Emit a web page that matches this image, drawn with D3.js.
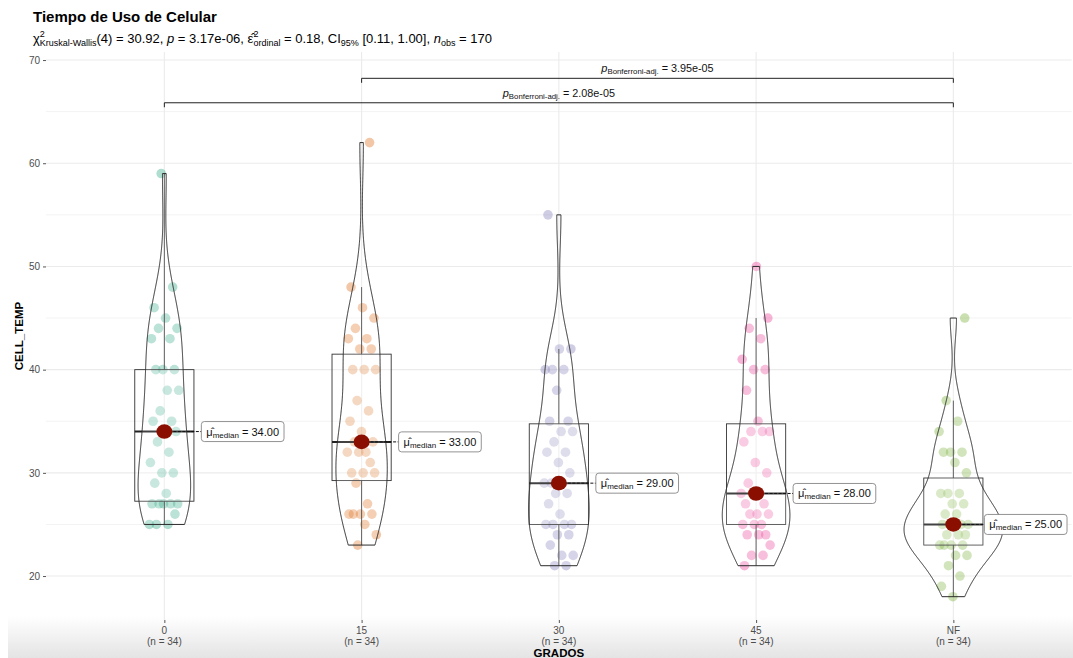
<!DOCTYPE html>
<html><head><meta charset="utf-8">
<script src="https://cdn.jsdelivr.net/npm/d3@7"></script>
<style>body{margin:0;background:#fff} text{font-family:"Liberation Sans",Arial,sans-serif;white-space:pre}</style>
</head><body><svg id="c" width="1073" height="658" xml:space="preserve"></svg>
<script>
// ---------------- data ----------------
const categories = ["0", "15", "30", "45", "NF"];
const counts = [34, 34, 34, 34, 34];
const temp0  = [25,25,25,26,27,27,27,27,27,28,29,30,30,31,32,33,34,34,35,35,36,38,38,40,40,40,43,43,44,44,45,46,48,59];
const temp15 = [23,24,25,26,26,26,26,27,29,30,30,30,31,32,32,32,33,33,34,35,36,37,40,40,40,42,42,43,43,44,45,46,48,62];
const temp30 = [21,21,22,22,23,24,24,25,25,25,25,26,27,28,28,29,29,29,30,31,32,32,33,34,34,35,35,38,40,40,40,42,42,55];
const temp45 = [21,22,22,23,24,24,24,25,25,25,26,26,26,27,27,28,28,28,29,30,31,33,34,34,34,35,38,40,40,41,43,44,45,50];
const tempNF = [18,19,20,21,22,22,23,23,23,23,24,24,24,25,25,25,25,25,26,26,27,27,28,28,28,30,31,32,32,32,34,35,37,45];
const seriesValues = [temp0, temp15, temp30, temp45, tempNF];
const yTicks = [20, 30, 40, 50, 60, 70];
const yMinorTicks = [25, 35, 45, 55, 65];
const pairFrom = ["0", "15"];
const pairTo = ["NF", "NF"];
const pairP = ["2.08e-05", "3.95e-05"];
const pairLevel = [65.86, 68.23];
const palette = ["#1B9E77", "#D95F02", "#7570B3", "#E7298A", "#66A61E"];

// ---------------- layout ----------------
const svg = d3.select("#c");
const W = 1073, H = 658;
const P = {l: 46, r: 1071.7, t: 52, b: 620};

const defs = svg.append("defs");
const grad = defs.append("linearGradient").attr("id", "bandg").attr("x1", 0).attr("x2", 0).attr("y1", 0).attr("y2", 1);
grad.append("stop").attr("offset", "0%").attr("stop-color", "#ffffff");
grad.append("stop").attr("offset", "100%").attr("stop-color", "#e4e4e4");
svg.append("rect").attr("x", 8).attr("y", 616).attr("width", W - 8).attr("height", H - 616).attr("fill", "url(#bandg)");

const x = d3.scalePoint().domain(categories).range([P.l, P.r]).padding(0.6);
const y = d3.scaleLinear().domain([15.74, 70.78]).range([P.b, P.t]);
const step = x.step();

const grid = svg.append("g");
grid.selectAll(".mn").data(yMinorTicks).join("line")
  .attr("x1", P.l).attr("x2", P.r).attr("y1", d => y(d)).attr("y2", d => y(d))
  .attr("stroke", "#f3f3f3").attr("stroke-width", 1);
grid.selectAll(".mj").data(yTicks).join("line")
  .attr("x1", P.l).attr("x2", P.r).attr("y1", d => y(d)).attr("y2", d => y(d))
  .attr("stroke", "#ebebeb").attr("stroke-width", 1.1);
grid.selectAll(".vx").data(categories).join("line")
  .attr("x1", d => x(d)).attr("x2", d => x(d)).attr("y1", P.t).attr("y2", P.b)
  .attr("stroke", "#ebebeb").attr("stroke-width", 1.1);

const yAxis = d3.axisLeft(y).tickValues(yTicks).tickSize(3).tickPadding(3);
const ya = svg.append("g").attr("transform", `translate(${P.l},0)`).call(yAxis);
ya.select(".domain").remove();
ya.selectAll("line").attr("stroke", "#555");
ya.selectAll("text").attr("fill", "#4d4d4d").attr("font-size", 10);

const xAxis = d3.axisBottom(x).tickSize(3).tickFormat(() => "");
const xa = svg.append("g").attr("transform", `translate(0,${P.b})`).call(xAxis);
xa.select(".domain").remove();
xa.selectAll("line").attr("stroke", "#555");
categories.forEach((c, i) => {
  svg.append("text").attr("x", x(c)).attr("y", 634).attr("text-anchor", "middle")
    .attr("font-size", 10).attr("fill", "#4d4d4d").text(c);
  svg.append("text").attr("x", x(c)).attr("y", 645).attr("text-anchor", "middle")
    .attr("font-size", 10).attr("fill", "#4d4d4d").text(`(n = ${counts[i]})`);
});

svg.append("text").attr("x", (P.l + P.r) / 2).attr("y", 657).attr("text-anchor", "middle")
  .attr("font-size", 11.5).attr("font-weight", "bold").text("GRADOS");
svg.append("text").attr("transform", `translate(23,${(P.t + P.b) / 2}) rotate(-90)`).attr("text-anchor", "middle")
  .attr("font-size", 11.5).attr("font-weight", "bold").text("CELL_TEMP");

function rich(parent, px, py, segs, anchor, color) {
  const g = parent.append("g");
  let cx = 0;
  segs.forEach(s => {
    const t = g.append("text").attr("x", cx).attr("y", s.dy || 0).attr("font-size", s.size)
      .attr("fill", color || "#000").attr("xml:space", "preserve").text(s.t);
    if (s.italic) t.attr("font-style", "italic");
    const w = t.node().getComputedTextLength();
    if (!s.stack) cx += w;
  });
  const shift = anchor === "middle" ? -cx / 2 : anchor === "end" ? -cx : 0;
  g.attr("transform", `translate(${px + shift},${py})`);
  return {g, width: cx};
}

svg.append("text").attr("x", 33).attr("y", 22).attr("font-size", 15).attr("font-weight", "bold").text("Tiempo de Uso de Celular");
const B = 13, S = 9;
rich(svg, 33, 43, [
  {t: "\u03C7", size: B},
  {t: "2", size: S, dy: -6.5, stack: true},
  {t: "Kruskal-Wallis", size: S, dy: 3},
  {t: "(4) = 30.92, ", size: B},
  {t: "p", size: B, italic: true},
  {t: " = 3.17e-06, ", size: B},
  {t: "\u03B5\u0302", size: B},
  {t: "2", size: S, dy: -6.5, stack: true},
  {t: "ordinal", size: S, dy: 3},
  {t: " = 0.18, CI", size: B},
  {t: "95%", size: S, dy: 3},
  {t: " [0.11, 1.00], ", size: B},
  {t: "n", size: B, italic: true},
  {t: "obs", size: S, dy: 3},
  {t: " = 170", size: B}
], "start");

function kde(vals) {
  const n = vals.length;
  const sd = d3.deviation(vals);
  const iqr = d3.quantile(vals, 0.75) - d3.quantile(vals, 0.25);
  const bw = 0.9 * Math.min(sd, iqr / 1.34) * Math.pow(n, -0.2);
  const lo = d3.min(vals), hi = d3.max(vals);
  const pts = [];
  for (let k = 0; k < 512; k++) {
    const v = lo + (hi - lo) * k / 511;
    let s = 0;
    vals.forEach(d => { const z = (v - d) / bw; s += Math.exp(-0.5 * z * z); });
    pts.push([v, s / (n * bw * Math.sqrt(2 * Math.PI))]);
  }
  return pts;
}
const dens = seriesValues.map(v => kde(v));
const maxD = d3.max(dens, d => d3.max(d, p => p[1]));
const halfW = 0.25 * step;

const plot = svg.append("g");

categories.forEach((c, gi) => {
  const vals = seriesValues[gi];
  plot.append("g").selectAll("circle").data(vals).join("circle")
    .attr("cx", (d, i) => x(c) + (((i * 0.6180339 + gi * 0.371) % 1) - 0.5) * 30)
    .attr("cy", d => y(d)).attr("r", 4.8)
    .attr("fill", palette[gi]).attr("fill-opacity", 0.35);
});

categories.forEach((c, gi) => {
  const vals = seriesValues[gi].slice().sort(d3.ascending);
  const q1 = d3.quantile(vals, 0.25), q3 = d3.quantile(vals, 0.75), md = d3.median(vals);
  const iqr = q3 - q1;
  const wLo = d3.min(vals.filter(v => v >= q1 - 1.5 * iqr));
  const wHi = d3.max(vals.filter(v => v <= q3 + 1.5 * iqr));
  const bw = 0.15 * step, cx = x(c);
  const g = plot.append("g");
  g.append("line").attr("x1", cx).attr("x2", cx).attr("y1", y(q3)).attr("y2", y(wHi)).attr("stroke", "#333").attr("stroke-width", 0.9);
  g.append("line").attr("x1", cx).attr("x2", cx).attr("y1", y(q1)).attr("y2", y(wLo)).attr("stroke", "#333").attr("stroke-width", 0.9);
  g.append("rect").attr("x", cx - bw).attr("width", 2 * bw).attr("y", y(q3)).attr("height", y(q1) - y(q3))
    .attr("fill", "#fff").attr("fill-opacity", 0.2).attr("stroke", "#333").attr("stroke-width", 0.9);
  g.append("line").attr("x1", cx - bw).attr("x2", cx + bw).attr("y1", y(md)).attr("y2", y(md)).attr("stroke", "#222").attr("stroke-width", 2);
});

categories.forEach((c, gi) => {
  const d = dens[gi];
  const cx = x(c);
  const right = d.map(p => [cx + p[1] / maxD * halfW, y(p[0])]);
  const left = d.slice().reverse().map(p => [cx - p[1] / maxD * halfW, y(p[0])]);
  plot.append("path").attr("d", d3.line()(right.concat(left)) + "Z")
    .attr("fill", "#fff").attr("fill-opacity", 0.15).attr("stroke", "#2b2b2b").attr("stroke-width", 1);
});

categories.forEach((c, gi) => {
  const md = d3.median(seriesValues[gi]);
  const cx = x(c), cy = y(md);
  const lx = cx + (gi === 4 ? 31 : 37);
  plot.append("line").attr("x1", cx).attr("x2", lx).attr("y1", cy).attr("y2", cy)
    .attr("stroke", "#111").attr("stroke-width", 1).attr("stroke-dasharray", "3,1.5");
  plot.append("ellipse").attr("cx", cx).attr("cy", cy).attr("rx", 8).attr("ry", 7.3).attr("fill", "#8B0F00");
  const lab = plot.append("g");
  const r = rich(lab, lx + 5, cy + 4, [
    {t: "\u03BC\u0302", size: 11},
    {t: "median", size: 8, dy: 2},
    {t: " = " + md.toFixed(2), size: 11}
  ], "start", "#111");
  lab.insert("rect", ":first-child").attr("x", lx).attr("y", cy - 10).attr("width", r.width + 10).attr("height", 20)
    .attr("rx", 3).attr("fill", "#fff").attr("stroke", "#777").attr("stroke-width", 0.8);
});

pairFrom.forEach((f, k) => {
  const x1 = x(f), x2 = x(pairTo[k]), yy = y(pairLevel[k]);
  svg.append("path").attr("d", `M${x1},${yy + 4.5}L${x1},${yy}L${x2},${yy}L${x2},${yy + 4.5}`)
    .attr("fill", "none").attr("stroke", "#222").attr("stroke-width", 1);
  rich(svg, (x1 + x2) / 2, yy - 6, [
    {t: "p", size: 11, italic: true},
    {t: "Bonferroni-adj.", size: 7.8, dy: 2},
    {t: " = " + pairP[k], size: 10.8}
  ], "middle", "#111");
});
</script></body></html>
